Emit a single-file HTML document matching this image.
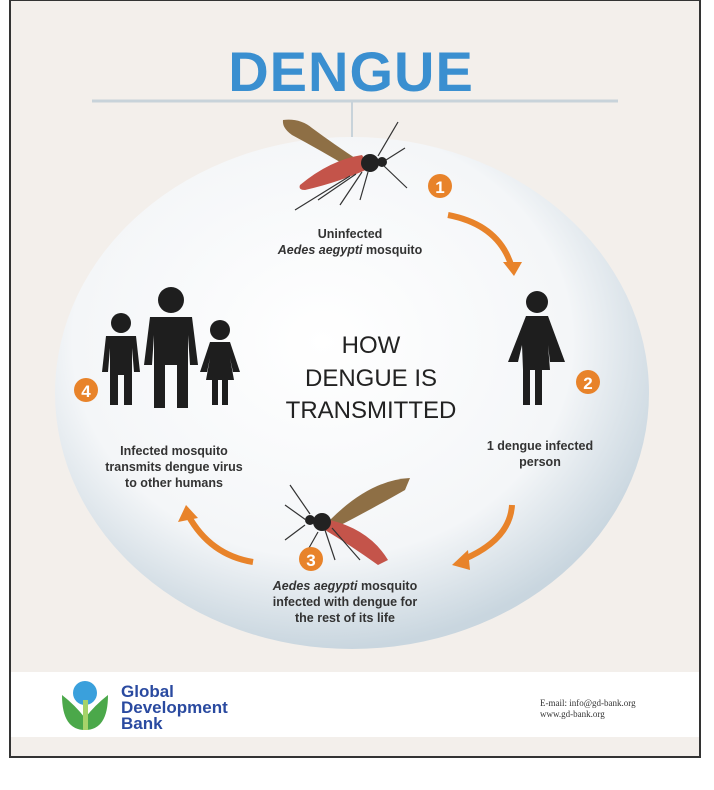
<!DOCTYPE html>
<html><head><meta charset="utf-8"><style>
body{margin:0;width:714px;height:785px;background:#fff;overflow:hidden;font-family:"Liberation Sans",sans-serif}
</style></head><body>
<svg width="714" height="785" viewBox="0 0 714 785" xmlns="http://www.w3.org/2000/svg">
<defs>
<radialGradient id="g" cx="0.45" cy="0.4" r="0.6">
<stop offset="0" stop-color="#ffffff"/><stop offset="0.7" stop-color="#f4f6f8"/><stop offset="1" stop-color="#c9d6df"/>
</radialGradient>
</defs>
<rect x="10" y="0" width="690" height="757" fill="#f3efeb" stroke="#333" stroke-width="2"/>
<text x="351" y="91" text-anchor="middle" font-size="56" font-weight="bold" fill="#3a8fd0" letter-spacing="1">DENGUE</text>
<line x1="92" y1="101" x2="618" y2="101" stroke="#c8d3da" stroke-width="3"/>
<line x1="352" y1="101" x2="352" y2="137" stroke="#c8d3da" stroke-width="2"/>
<ellipse cx="352" cy="393" rx="297" ry="256" fill="url(#g)"/>
<rect x="11" y="672" width="688" height="65" fill="#fff"/>
<!-- mosquito 1 -->
<g>
<path d="M283 120 Q300 118 312 128 Q335 145 358 160 L350 168 Q320 150 292 135 Q282 128 283 120Z" fill="#8e6f45"/>
<path d="M300 185 Q330 160 362 155 L370 168 Q340 182 305 190 Q298 190 300 185Z" fill="#c4544a"/>
<circle cx="370" cy="163" r="9" fill="#222"/>
<circle cx="382" cy="162" r="5" fill="#222"/>
<path d="M386 160 L405 148 M378 156 L398 122 M384 166 L407 188 M362 172 L340 205 M356 174 L318 200 M350 176 L295 210 M368 172 L360 200" stroke="#333" stroke-width="1.2" fill="none"/>
</g>
<circle cx="440" cy="186" r="12" fill="#e8832a"/><text x="440" y="193" text-anchor="middle" font-size="17" font-weight="bold" fill="#fff">1</text>
<path d="M448 215 Q500 225 512 268" stroke="#e8832a" stroke-width="6" fill="none"/>
<polygon points="503,262 522,262 514,276" fill="#e8832a"/>
<text x="350" y="238" text-anchor="middle" font-size="12.5" font-weight="bold" fill="#333">Uninfected</text>
<text x="350" y="254" text-anchor="middle" font-size="12.5" font-weight="bold" fill="#333"><tspan font-style="italic">Aedes aegypti</tspan> mosquito</text>
<!-- person 2 -->
<g fill="#1e1e1e">
<circle cx="537" cy="302" r="11"/>
<path d="M526 316 L548 316 L565 362 L550 362 L548 345 L550 370 L542 370 L542 405 L535 405 L535 370 L530 370 L530 405 L523 405 L523 370 L522 345 L518 362 L508 362Z"/>
</g>
<circle cx="588" cy="382" r="12" fill="#e8832a"/><text x="588" y="389" text-anchor="middle" font-size="17" font-weight="bold" fill="#fff">2</text>
<text x="540" y="450" text-anchor="middle" font-size="12.5" font-weight="bold" fill="#333">1 dengue infected</text>
<text x="540" y="466" text-anchor="middle" font-size="12.5" font-weight="bold" fill="#333">person</text>
<path d="M512 505 Q510 540 462 560" stroke="#e8832a" stroke-width="6" fill="none"/>
<polygon points="468,550 452,565 470,570" fill="#e8832a"/>
<!-- mosquito 3 -->
<g>
<path d="M330 520 Q370 480 410 478 L405 490 Q370 510 335 528Z" fill="#8e6f45"/>
<path d="M330 520 Q370 530 388 560 L378 565 Q350 545 325 530Z" fill="#c4544a"/>
<circle cx="322" cy="522" r="9" fill="#222"/>
<circle cx="310" cy="520" r="5" fill="#222"/>
<path d="M306 520 L285 505 M310 514 L290 485 M305 525 L285 540 M325 530 L335 560 M332 528 L360 560 M318 532 L305 555" stroke="#333" stroke-width="1.2" fill="none"/>
</g>
<circle cx="311" cy="559" r="12" fill="#e8832a"/><text x="311" y="566" text-anchor="middle" font-size="17" font-weight="bold" fill="#fff">3</text>
<text x="345" y="590" text-anchor="middle" font-size="12.5" font-weight="bold" font-style="italic" fill="#333">Aedes aegypti <tspan font-style="normal">mosquito</tspan></text>
<text x="345" y="606" text-anchor="middle" font-size="12.5" font-weight="bold" fill="#333">infected with dengue for</text>
<text x="345" y="622" text-anchor="middle" font-size="12.5" font-weight="bold" fill="#333">the rest of its life</text>
<path d="M253 562 Q210 555 188 515" stroke="#e8832a" stroke-width="6" fill="none"/>
<polygon points="178,522 186,505 198,518" fill="#e8832a"/>
<!-- family 4 -->
<g fill="#1e1e1e">
<circle cx="121" cy="323" r="10"/>
<path d="M106 336 L136 336 L140 372 L134 372 L132 348 L132 405 L124 405 L124 375 L118 375 L118 405 L110 405 L110 348 L108 372 L102 372Z"/>
<circle cx="171" cy="300" r="13"/>
<path d="M150 317 L192 317 L198 365 L190 365 L188 335 L188 408 L177 408 L177 365 L165 365 L165 408 L154 408 L154 335 L152 365 L144 365Z"/>
<circle cx="220" cy="330" r="10"/>
<path d="M210 342 L230 342 L240 372 L233 372 L230 358 L234 380 L228 380 L228 405 L222 405 L222 380 L218 380 L218 405 L212 405 L212 380 L206 380 L210 358 L207 372 L200 372Z"/>
</g>
<circle cx="86" cy="390" r="12" fill="#e8832a"/><text x="86" y="397" text-anchor="middle" font-size="17" font-weight="bold" fill="#fff">4</text>
<text x="174" y="455" text-anchor="middle" font-size="12.5" font-weight="bold" fill="#333">Infected mosquito</text>
<text x="174" y="471" text-anchor="middle" font-size="12.5" font-weight="bold" fill="#333">transmits dengue virus</text>
<text x="174" y="487" text-anchor="middle" font-size="12.5" font-weight="bold" fill="#333">to other humans</text>
<text x="371" y="353" text-anchor="middle" font-size="24" fill="#222">HOW</text>
<text x="371" y="386" text-anchor="middle" font-size="24" fill="#222">DENGUE IS</text>
<text x="371" y="418" text-anchor="middle" font-size="24" fill="#222">TRANSMITTED</text>
<!-- footer -->
<circle cx="85" cy="693" r="12" fill="#3aa0dc"/>
<path d="M62 695 Q62 730 85 730 Q108 730 108 695 Q95 705 85 718 Q75 705 62 695Z" fill="#4ba84a"/>
<rect x="83" y="700" width="5" height="30" fill="#a6d36a"/>
<text x="121" y="697" font-size="17" font-weight="bold" fill="#2a4aa0">Global</text>
<text x="121" y="713" font-size="17" font-weight="bold" fill="#2a4aa0">Development</text>
<text x="121" y="729" font-size="17" font-weight="bold" fill="#2a4aa0">Bank</text>
<text x="540" y="706" font-size="9" font-family="Liberation Serif" fill="#333">E-mail: info@gd-bank.org</text>
<text x="540" y="717" font-size="9" font-family="Liberation Serif" fill="#333">www.gd-bank.org</text>
</svg>
</body></html>
